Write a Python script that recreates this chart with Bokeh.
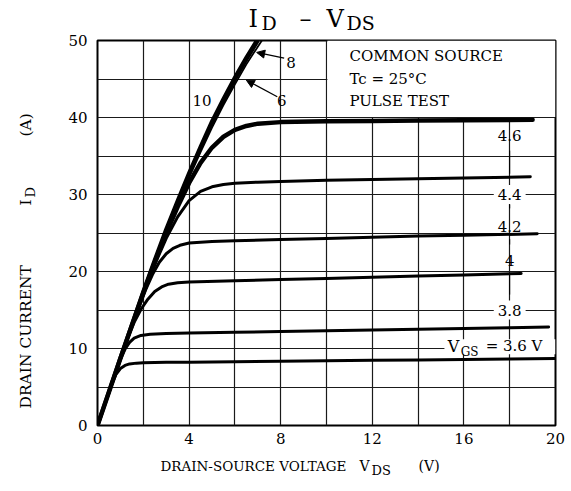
import math
from bokeh.plotting import figure
from bokeh.models import FixedTicker, Label, Arrow, NormalHead, Range1d
from bokeh.core.properties import value
from bokeh.embed import file_html
from bokeh.resources import INLINE

# ---------------- data ----------------
v_10 = [0, 0.5, 1, 1.5, 2, 2.5, 3, 3.5, 4, 4.5, 5, 5.5, 6, 6.5, 7.0]
i_10 = [0, 4.4, 8.8, 13.1, 17.4, 21.5, 25.5, 29.2, 32.8, 36.2, 39.5, 42.4, 45.2, 47.8, 50.2]

v_8 = [0, 0.5, 1, 1.5, 2, 2.5, 3, 3.5, 4, 4.5, 5, 5.5, 6, 6.5, 7.0, 7.05]
i_8 = [0, 4.4, 8.75, 13.05, 17.3, 21.35, 25.3, 28.95, 32.5, 35.9, 39.1, 42.0, 44.75, 47.35, 49.8, 50.1]

v_6 = [0, 0.5, 1, 1.5, 2, 2.5, 3, 3.5, 4, 4.5, 5, 5.5, 6, 6.5, 7.0, 7.2]
i_6 = [0, 4.35, 8.7, 13.0, 17.2, 21.2, 25.1, 28.7, 32.2, 35.5, 38.7, 41.6, 44.3, 46.9, 49.2, 50.1]

v_46 = [0, 0.5, 1, 1.5, 2, 2.5, 3, 3.5, 4, 4.5, 5, 5.5, 6, 6.5, 7, 8, 10, 12, 14, 16, 19]
i_46 = [0, 4.35, 8.7, 13.0, 17.2, 21.2, 25.0, 28.4, 31.5, 34.1, 36.1, 37.5, 38.4, 38.9, 39.2, 39.4, 39.5, 39.55, 39.6, 39.65, 39.7]

v_44 = [0, 0.5, 1, 1.5, 2, 2.5, 3, 3.5, 4, 4.5, 5, 5.5, 6, 7, 8, 10, 12, 14, 16, 18.9]
i_44 = [0, 4.35, 8.7, 13.0, 17.1, 20.9, 24.3, 27.1, 29.2, 30.4, 31.0, 31.3, 31.45, 31.6, 31.7, 31.85, 31.95, 32.05, 32.15, 32.3]

v_42 = [0, 0.5, 1, 1.5, 1.8, 2.1, 2.4, 2.7, 3, 3.3, 3.6, 4, 5, 6, 8, 10, 12, 14, 16, 19.2]
i_42 = [0, 4.35, 8.7, 12.9, 15.3, 17.6, 19.6, 21.2, 22.3, 23.0, 23.4, 23.7, 23.9, 24.0, 24.15, 24.3, 24.45, 24.6, 24.7, 24.9]

v_40 = [0, 0.5, 1, 1.3, 1.6, 1.9, 2.2, 2.5, 2.8, 3.1, 3.5, 4, 6, 8, 10, 12, 14, 16, 18.5]
i_40 = [0, 4.35, 8.7, 11.2, 13.4, 15.1, 16.4, 17.4, 18.0, 18.35, 18.55, 18.65, 18.8, 18.95, 19.1, 19.25, 19.4, 19.55, 19.75]

v_38 = [0, 0.5, 0.8, 1.0, 1.2, 1.4, 1.6, 1.9, 2.3, 3, 4, 6, 8, 10, 12, 14, 16, 18, 19.7]
i_38 = [0, 4.35, 6.9, 8.6, 9.9, 10.8, 11.35, 11.7, 11.85, 11.95, 12.0, 12.1, 12.2, 12.3, 12.4, 12.5, 12.6, 12.7, 12.8]

v_36 = [0, 0.3, 0.6, 0.8, 1.0, 1.2, 1.4, 1.7, 2, 3, 4, 6, 8, 10, 12, 14, 16, 18, 20]
i_36 = [0, 2.6, 5.2, 6.6, 7.4, 7.8, 8.0, 8.1, 8.15, 8.2, 8.22, 8.28, 8.33, 8.4, 8.46, 8.52, 8.58, 8.64, 8.7]

x_tick_labels = [0, 4, 8, 12, 16, 20]
y_tick_labels = [0, 10, 20, 30, 40, 50]
x_grid = [2, 4, 6, 8, 10, 12, 14, 16, 18]
y_grid = [5, 10, 15, 20, 25, 30, 35, 40, 45]

FONT = "DejaVu Serif"
W, H = 566, 488

p = figure(width=W, height=H, x_range=Range1d(0, 20), y_range=Range1d(0, 50),
           output_backend="svg", toolbar_location=None,
           min_border_left=97, min_border_right=W - 97 - 458, min_border_top=40,
           min_border_bottom=H - 40 - 385)
p.title = None
p.background_fill_color = "white"
p.border_fill_color = "white"
p.outline_line_color = "black"
p.outline_line_width = 2

p.xaxis.ticker = FixedTicker(ticks=x_tick_labels)
p.yaxis.ticker = FixedTicker(ticks=y_tick_labels)
p.xgrid.ticker = FixedTicker(ticks=x_grid)
p.ygrid.ticker = FixedTicker(ticks=y_grid)
for g in (p.xgrid, p.ygrid):
    g.grid_line_color = "#1a1a1a"
    g.grid_line_width = 1.2
for ax in (p.xaxis, p.yaxis):
    ax.axis_line_color = None
    ax.major_tick_line_color = None
    ax.minor_tick_line_color = None
    ax.major_label_text_font = FONT
    ax.major_label_text_font_size = "15px"
    ax.major_label_text_color = "black"
p.xaxis.major_label_standoff = 1
p.yaxis.major_label_standoff = 4

# blank box behind the test conditions, white patch behind the VGS label
p.quad(left=[10.04], right=[20], bottom=[40.08], top=[50], fill_color="white", line_color=None)
p.quad(left=[15.15], right=[20], bottom=[9.25], top=[11.2], fill_color="white", line_color=None)

curves = [(v_10, i_10, 4.0), (v_8, i_8, 2.6), (v_6, i_6, 1.8), (v_46, i_46, 4.5), (v_44, i_44, 3.0),
          (v_42, i_42, 3.0), (v_40, i_40, 3.0), (v_38, i_38, 3.0), (v_36, i_36, 3.0)]
for v, i, w in curves:
    p.line(v, i, line_color="black", line_width=w, line_join="round", line_cap="round")

# leader ticks near the right-hand labels
p.segment(x0=[18, 18, 18, 18], y0=[35.7, 28.7, 24.2, 19.6], x1=[18, 18, 18, 18], y1=[32.7, 28.2, 23.5, 17.0],
          line_color="black", line_width=1)


def lab(x, y, text, size="15px", align="left", baseline="middle", bg=None, pad=0):
    kw = {}
    if bg:
        kw["background_fill_color"] = bg
        kw["padding"] = pad
    p.add_layout(Label(x=x, y=y, text=text, text_font=FONT, text_font_size=size, text_color="black",
                       text_align=align, text_baseline=baseline, **kw))


def outside(x, y, text, size="15px", baseline="middle", angle=0.0):
    # text placed in the figure margins (title, axis titles)
    p.text(x=[x], y=[y], text=[text], text_font=value(FONT), text_font_size=value(size),
           text_color="black", text_align="left", text_baseline=baseline, angle=angle,
           level="annotation")


# curve labels
lab(4.56, 42.2, "10", align="center")
lab(8.45, 47.2, "8", align="center")
lab(8.05, 42.2, "6", align="center")
for (x0, y0, x1, y1) in [(8.15, 47.7, 6.95, 48.45), (7.85, 42.7, 6.5, 44.85)]:
    p.add_layout(Arrow(end=NormalHead(size=8, fill_color="black", line_color="black"),
                       x_start=x0, y_start=y0, x_end=x1, y_end=y1, line_width=1.2, line_color="black"))

lab(18.0, 37.6, "4.6", align="center")
lab(18.0, 30.0, "4.4", align="center", bg="white", pad=4)
lab(18.0, 25.9, "4.2", align="center")
lab(18.0, 21.4, "4", align="center")
lab(18.0, 15.0, "3.8", align="center", bg="white", pad=4)
lab(15.3, 10.3, "V", size="16px")
lab(15.86, 9.6, "GS", size="12px")
lab(16.95, 10.3, "= 3.6 V", size="15px")

# test conditions
lab(11.0, 48.0, "COMMON SOURCE")
lab(11.0, 45.0, "Tc = 25°C")
lab(11.0, 42.2, "PULSE TEST")

# title  I_D – V_DS
outside(6.59, 52.75, "I", size="24px", baseline="alphabetic")
outside(7.16, 52.23, "D", size="19px", baseline="alphabetic")
outside(8.82, 52.75, "–", size="24px", baseline="alphabetic")
outside(10.0, 52.75, "V", size="24px", baseline="alphabetic")
outside(10.87, 52.23, "DS", size="19px", baseline="alphabetic")

# x axis title
outside(2.75, -5.32, "DRAIN-SOURCE VOLTAGE", size="13.5px")
outside(11.44, -5.32, "V", size="14px")
outside(11.97, -5.84, "DS", size="13px")
outside(14.02, -5.32, "(V)", size="14px")

# y axis title (rotated)
a = math.pi / 2
outside(-3.14, 2.21, "DRAIN CURRENT", size="15.5px", angle=a)
outside(-3.14, 28.57, "I", size="15.5px", angle=a)
outside(-2.93, 29.6, "D", size="13px", angle=a)
outside(-3.14, 37.53, "(A)", size="15.5px", angle=a)

open("out.html", "w").write(file_html(p, INLINE))
